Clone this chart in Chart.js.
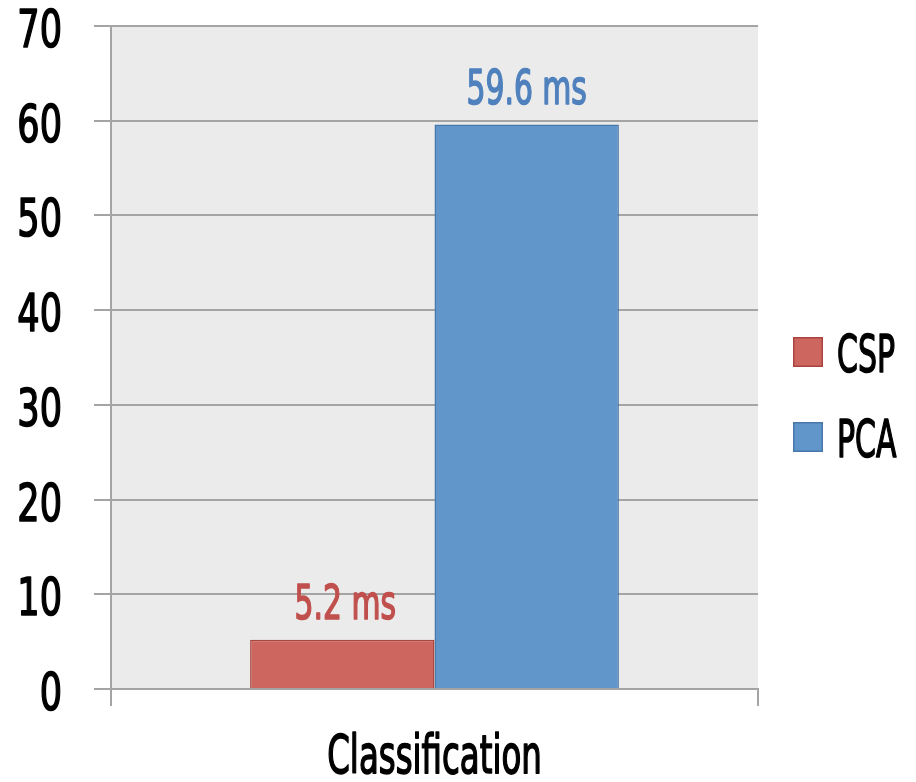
<!DOCTYPE html>
<html>
<head>
<meta charset="utf-8">
<script src="https://cdn.jsdelivr.net/npm/chart.js@4.4.1/dist/chart.umd.min.js"></script>
<style>
  html, body { margin: 0; padding: 0; background: #ffffff; }
  #wrap { width: 916px; height: 782px; }
</style>
</head>
<body>
<div id="wrap"><canvas id="c" width="916" height="782"></canvas></div>
<script>
// Timing per method, in milliseconds
const categories = ['Classification'];
const cspValues = [5.2];
const pcaValues = [59.6];
const seriesNames = ['CSP', 'PCA'];
const yTicks = [0, 10, 20, 30, 40, 50, 60, 70];

const FONT = "'DejaVu Sans Condensed', 'DejaVu Sans', sans-serif";
const GRID = '#a4a4a4';

// Narrow, tall, medium-weight lettering: horizontally compressed text
function drawNarrow(ctx, text, x, y, size, sx, align, color) {
  ctx.save();
  ctx.font = size + 'px ' + FONT;
  ctx.fillStyle = color;
  ctx.strokeStyle = color;
  ctx.lineWidth = 1.6;
  ctx.lineJoin = 'round';
  ctx.textAlign = 'left';
  ctx.textBaseline = 'alphabetic';
  const w = ctx.measureText(text).width * sx;
  const left = align === 'center' ? x - w / 2 : align === 'right' ? x - w : x;
  ctx.translate(left, y);
  ctx.scale(sx, 1);
  ctx.fillText(text, 0, 0);
  ctx.strokeText(text, 0, 0);
  ctx.restore();
}

// Grey plot background
const plotBackground = {
  id: 'plotBackground',
  beforeDraw(chart) {
    const { ctx, chartArea: a } = chart;
    ctx.save();
    ctx.fillStyle = '#ebebeb';
    ctx.fillRect(a.left, a.top, a.right - a.left, a.bottom - a.top);
    ctx.restore();
  }
};

// Axis labels, value labels and legend
const labelsPlugin = {
  id: 'labelsPlugin',
  afterDraw(chart) {
    const { ctx } = chart;
    const ys = chart.scales.y;
    const xs = chart.scales.x;

    // y tick labels
    ys.ticks.forEach(t => {
      const py = ys.getPixelForValue(t.value);
      drawNarrow(ctx, String(t.value), ys.right - 49, py + 21, 52, 0.75, 'right', '#000000');
    });

    // category labels
    chart.data.labels.forEach((lab, i) => {
      drawNarrow(ctx, lab, xs.getPixelForTick(i), xs.top + 84, 53, 0.68, 'center', '#000000');
    });

    // value labels above bars
    chart.data.datasets.forEach((ds, i) => {
      chart.getDatasetMeta(i).data.forEach((bar, j) => {
        drawNarrow(ctx, ds.data[j] + ' ms', bar.x + (i === 0 ? 3 : 0), bar.y - 21, 48, 0.69, 'center', ds.labelColor);
      });
    });

    // legend
    const a = chart.chartArea;
    chart.data.datasets.forEach((ds, i) => {
      const cy = 352 + i * 85;
      const bx = a.right + 35;
      ctx.save();
      ctx.fillStyle = ds.backgroundColor;
      ctx.strokeStyle = ds.borderColor;
      ctx.lineWidth = 1.5;
      ctx.fillRect(bx, cy - 15, 30, 30);
      ctx.strokeRect(bx + 0.75, cy - 14.25, 28.5, 28.5);
      ctx.restore();
      drawNarrow(ctx, ds.label, bx + 44, cy + 20, 52, 0.64, 'left', '#000000');
    });
  }
};

new Chart(document.getElementById('c'), {
  type: 'bar',
  data: {
    labels: categories,
    datasets: [
      {
        label: seriesNames[0],
        data: cspValues,
        backgroundColor: '#cd665f',
        borderColor: '#a9443f',
        borderWidth: 1.5,
        labelColor: '#c0504d'
      },
      {
        label: seriesNames[1],
        data: pcaValues,
        backgroundColor: '#6096c9',
        borderColor: '#4877aa',
        borderWidth: 1.5,
        labelColor: '#4f81bd'
      }
    ]
  },
  plugins: [plotBackground, labelsPlugin],
  options: {
    responsive: false,
    animation: false,
    devicePixelRatio: 1,
    categoryPercentage: 0.57,
    barPercentage: 1.0,
    layout: { padding: { top: 26, right: 158, bottom: 0, left: 0 } },
    plugins: {
      legend: { display: false },
      tooltip: { enabled: false }
    },
    scales: {
      x: {
        grid: {
          offset: true,
          drawOnChartArea: false,
          color: GRID,
          lineWidth: 2,
          tickLength: 17
        },
        border: { display: true, color: GRID, width: 2 },
        ticks: { display: false },
        afterFit(scale) { scale.height = 93; }
      },
      y: {
        min: 0,
        max: 70,
        afterBuildTicks(scale) { scale.ticks = yTicks.map(v => ({ value: v })); },
        grid: {
          color: GRID,
          lineWidth: 2,
          tickLength: 17
        },
        border: { display: true, color: GRID, width: 2 },
        ticks: { display: false },
        afterFit(scale) { scale.width = 111; }
      }
    }
  }
});
</script>
</body>
</html>
